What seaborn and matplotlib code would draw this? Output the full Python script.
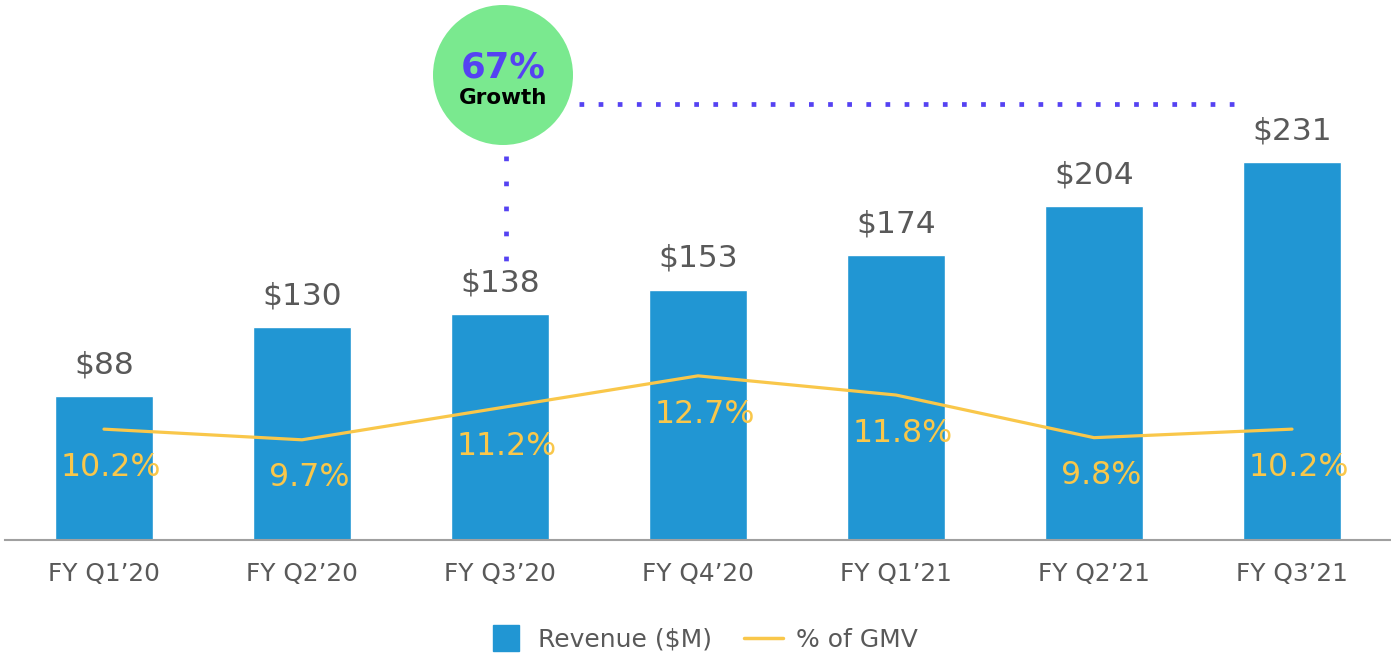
import numpy as np
import pandas as pd
import matplotlib
matplotlib.use("Agg")
import matplotlib.pyplot as plt
import seaborn as sns
from matplotlib.lines import Line2D
from matplotlib.patches import Ellipse

quarters = ["FY Q1\u201920", "FY Q2\u201920", "FY Q3\u201920", "FY Q4\u201920",
            "FY Q1\u201921", "FY Q2\u201921", "FY Q3\u201921"]
revenue = [88, 130, 138, 153, 174, 204, 231]
pct_gmv = [10.2, 9.7, 11.2, 12.7, 11.8, 9.8, 10.2]
growth_text = "67%"
growth_sub = "Growth"

BLUE = "#2196D3"
YELLOW = "#F9C74A"
GREY = "#595959"
PURPLE = "#5542F2"
GREEN = "#7AE98F"

sns.set_theme(style="white")
plt.rcParams["font.family"] = ["DejaVu Sans"]

W, H = 1391, 655
fig = plt.figure(figsize=(W / 100, H / 100), dpi=100)
ax = fig.add_axes([5 / W, (H - 540) / H, 1386 / W, 540 / H])

df = pd.DataFrame({"quarter": quarters, "revenue": revenue, "pct": pct_gmv})
sns.barplot(data=df, x="quarter", y="revenue", color=BLUE, saturation=1,
            width=0.49, ax=ax)
ax.set_xlim(-0.5, 6.5)
ax.set_ylim(0, 330)
ax.set_xlabel("")
ax.set_ylabel("")
ax.set_yticks([])
for s in ["top", "left", "right"]:
    ax.spines[s].set_visible(False)
ax.spines["bottom"].set_color("#A0A0A0")
ax.spines["bottom"].set_linewidth(1.5)
ax.tick_params(axis="x", length=0, pad=15.5, labelsize=17.8, labelcolor=GREY)

for i, v in enumerate(revenue):
    ax.annotate(f"\\${v}", (i, v), xytext=(0, 22.5), textcoords="offset points",
                ha="center", va="center", fontsize=22.5, color=GREY)

ax2 = ax.twinx()
sns.lineplot(x=np.arange(len(pct_gmv)), y=pct_gmv, color=YELLOW, linewidth=2.3,
             ax=ax2)
ax2.set_ylim(5.0, 30.33)
ax2.set_yticks([])
ax2.set_ylabel("")
for s in ax2.spines.values():
    s.set_visible(False)
ax2.set_xlim(-0.5, 6.5)
for i, v in enumerate(pct_gmv):
    ax2.annotate(f"{v}%", (i, v), xytext=(5, -27.5), textcoords="offset points",
                 ha="center", va="center", fontsize=22.8, color=YELLOW)

# growth bubble and dotted guides
circ = Ellipse((503 / W, (H - 75) / H), 140 / W, 140 / H, transform=fig.transFigure,
               facecolor=GREEN, edgecolor="none", zorder=5)
fig.patches.append(circ)
fig.text(503 / W, (H - 67) / H, growth_text, ha="center", va="center",
         fontsize=25.5, fontweight="bold", color=PURPLE, zorder=6)
fig.text(503 / W, (H - 98) / H, growth_sub, ha="center", va="center",
         fontsize=15.5, fontweight="bold", color="black", zorder=6)

fig.add_artist(Line2D([579 / W, 1238 / W], [(H - 104) / H, (H - 104) / H],
                      transform=fig.transFigure, color=PURPLE, linewidth=3.4,
                      linestyle=(0, (1, 3.05)), solid_capstyle="butt",
                      dash_capstyle="butt"))
fig.add_artist(Line2D([506 / W, 506 / W], [(H - 156) / H, (H - 262) / H],
                      transform=fig.transFigure, color=PURPLE, linewidth=3.4,
                      linestyle=(0, (1, 4.3)), solid_capstyle="butt",
                      dash_capstyle="butt"))

handles = [Line2D([], [], marker="s", linestyle="none", markersize=19,
                  markerfacecolor=BLUE, markeredgecolor=BLUE),
           Line2D([], [], color=YELLOW, linewidth=2.5)]
fig.legend(handles, ["Revenue ($M)", "% of GMV"], loc="center",
           bbox_to_anchor=(702 / W, (H - 640) / H), ncol=2, frameon=False,
           fontsize=18, labelcolor=GREY, handlelength=1.55, columnspacing=1.3,
           handletextpad=0.5)

fig.savefig("out.png", dpi=100)
